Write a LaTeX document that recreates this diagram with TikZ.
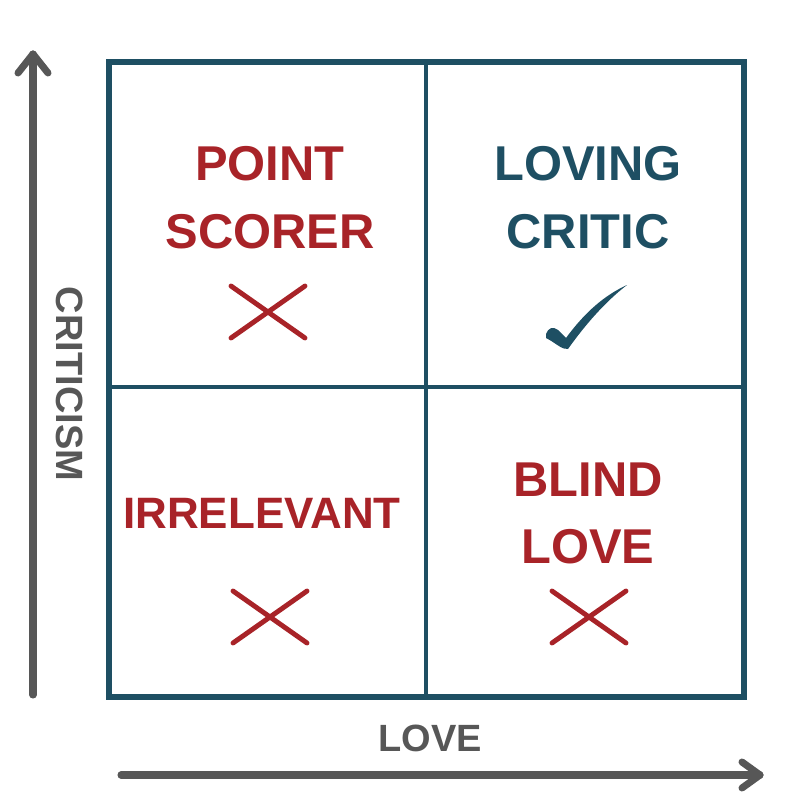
\documentclass[tikz,border=0pt]{standalone}
\usepackage{fontspec}
\setmainfont{Liberation Sans}
\definecolor{teal}{HTML}{1E4F63}
\definecolor{crimson}{HTML}{A82328}
\definecolor{axisgray}{HTML}{575757}
\begin{document}
\begin{tikzpicture}[x=0.01cm,y=-0.01cm,
  grid/.style={draw=teal,line width=1.85pt},
  innergrid/.style={draw=teal,line width=1.15pt},
  lab/.style={inner sep=0pt,font=\fontsize{13.9pt}{16pt}\selectfont\bfseries},
  bad/.style={lab,text=crimson},
  good/.style={lab,text=teal},
  axislab/.style={inner sep=0pt,font=\fontsize{10.8pt}{13pt}\selectfont\bfseries,text=axisgray},
  axis/.style={draw=axisgray,line width=2pt,line cap=round,line join=round},
  crossline/.style={draw=crimson,line width=1.4pt,line cap=round}]
\useasboundingbox (0,0) rectangle (800,800);
% grid
\draw[innergrid] (426,62) -- (426,697);
\draw[innergrid] (109,387) -- (744,387);
\draw[grid] (109,62) rectangle (744,697);
% axes
\coordinate (ybot) at (33,695);
\coordinate (ytop) at (33,54);
\coordinate (xl) at (121,775);
\coordinate (xr) at (760,775);
\draw[axis] (ybot) -- (ytop);
\draw[axis] ([shift={(-15,19)}]ytop) -- (ytop) -- ([shift={(15,19)}]ytop);
\draw[axis] (xl) -- (xr);
\draw[axis] ([shift={(-18,-13)}]xr) -- (xr) -- ([shift={(-18,13)}]xr);
% axis labels
\node[axislab] (love) at (430,738) {LOVE};
\node[axislab,rotate=-90] (crit) at (70,384) {CRITICISM};
% quadrant labels
\node[bad] (point) at (270,164) {POINT};
\node[bad] (scorer) at (270,232) {SCORER};
\node[good] (loving) at (588,164) {LOVING};
\node[good] (critic) at (588,232) {CRITIC};
\node[bad,font=\fontsize{12.5pt}{15pt}\selectfont\bfseries] (irr) at (262,513) {IRRELEVANT};
\node[bad] (blind) at (588,480) {BLIND};
\node[bad] (blove) at (588,547) {LOVE};
% crosses
\foreach \cx/\cy in {268/312, 270/617, 589/617}{
  \draw[crossline] (\cx-37,\cy-26) -- (\cx+37,\cy+26);
  \draw[crossline] (\cx-37,\cy+26) -- (\cx+37,\cy-26);
}
% check mark
\fill[teal] (546,334) .. controls (548,328) and (553,326) .. (558,330)
  -- (566,338) .. controls (585,312) and (605,295) .. (627,285)
  .. controls (605,302) and (585,325) .. (568,349)
  .. controls (562,350) and (556,343) .. (546,338) -- cycle;
\end{tikzpicture}
\end{document}
